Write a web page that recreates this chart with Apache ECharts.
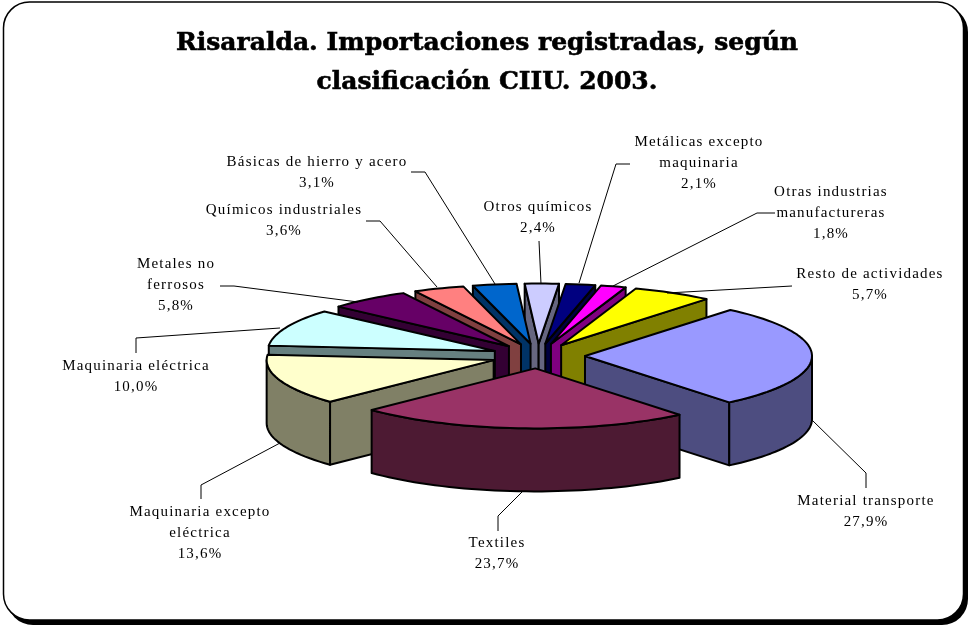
<!DOCTYPE html>
<html><head><meta charset="utf-8">
<style>html,body{margin:0;padding:0;background:#fff}#c{width:968px;height:625px}</style>
<script src="https://cdn.jsdelivr.net/npm/echarts@6/dist/echarts.min.js"></script>
</head><body><div id="c"></div>
<script>
const categories = ['Material transporte','Textiles','Maquinaria excepto\neléctrica','Maquinaria eléctrica','Metales no\nferrosos','Químicos industriales','Básicas de hierro y acero','Otros químicos','Metálicas excepto\nmaquinaria','Otras industrias\nmanufactureras','Resto de actividades'];
const values = [27.9,23.7,13.6,10.0,5.8,3.6,3.1,2.4,2.1,1.8,5.7];
const topColors = ['#9999FF','#993366','#FFFFCC','#CCFFFF','#660066','#FF8080','#0066CC','#CCCCFF','#000080','#FF00FF','#FFFF00'];
const sideColors = ['#4D4D80','#4D1A33','#808066','#668080','#330033','#804040','#003366','#666680','#000040','#800080','#808000'];
// label layout: text centre x, text top y
const labelAt = [[866,491],[497,533],[200,502],[136,356],[176,254],[284,200],[317,152],[538,197],[699,132],[831,182],[870,264]];
// leader line vertices (pixels)
const leaders = [
 [[866,488],[866,473],[812,420]],
 [[498,531],[498,516],[523,491]],
 [[201,499],[201,485],[280,443]],
 [[136,353],[136,338],[280,328]],
 [[220,286],[234,286],[358,302]],
 [[366,221],[380,221],[437,287]],
 [[411,172],[425,172],[495,284]],
 [[539,241],[541,284]],
 [[630,164],[616,164],[579,283]],
 [[775,213],[757,213],[613,286]],
 [[792,286],[667,293]]
];
const geo = {cx:538, cy:356, a:227, b:60, depth:63, explode:47, startDeg:-50.2};
const D = Math.PI/180;
const total = values.reduce((s,v)=>s+v,0);
const spans = [];
values.reduce((acc,v)=>{const e=acc+v/total*360;spans.push([acc,e]);return e;},geo.startDeg);
const pt = (o,deg,dy)=>[o[0]+geo.a*Math.cos(deg*D), o[1]+geo.b*Math.sin(deg*D)+(dy||0)];
function arc(o,s,e,dy){const n=Math.max(2,Math.ceil((e-s)/2));const r=[];for(let i=0;i<=n;i++)r.push(pt(o,s+(e-s)*i/n,dy));return r;}
const lineStyle={stroke:'#000',lineWidth:2,lineJoin:'round'};
function renderSlice(params,api){
  const i=params.dataIndex,[s,e]=spans[i],m=(s+e)/2;
  const o=[geo.cx+geo.explode*Math.cos(m*D), geo.cy+geo.explode*geo.b/geo.a*Math.sin(m*D)];
  const children=[];const z=Math.round(Math.sin(m*D)*1000)+2000;
  const poly=(pts,fill)=>children.push({type:'polygon',z2:z+children.length,shape:{points:pts},style:Object.assign({fill},lineStyle)});
  const face=(deg)=>{const r=pt(o,deg);poly([o,r,[r[0],r[1]+geo.depth],[o[0],o[1]+geo.depth]],sideColors[i]);};
  if(Math.cos(s*D)<0) face(s);
  if(Math.cos(e*D)>0) face(e);
  const ws=Math.max(s,0),we=Math.min(e,180);
  if(we>ws){poly(arc(o,ws,we,0).concat(arc(o,ws,we,geo.depth).reverse()),sideColors[i]);}
  poly([o].concat(arc(o,s,e,0)),topColors[i]);
  return {type:'group',children};
}
function renderLabel(params,api){
  const i=params.dataIndex,v=api.value(0);
  const txt=categories[i]+'\n'+v.toFixed(1).replace('.',',')+'%';
  return {type:'group',children:[
    {type:'polyline',shape:{points:leaders[i]},style:{stroke:'#000',lineWidth:1,fill:null}},
    {type:'text',x:labelAt[i][0],y:labelAt[i][1],style:{text:txt,align:'center',verticalAlign:'top',font:'15px "Liberation Serif"',lineHeight:21,fill:'#000'}}
  ]};
}
const chart=echarts.init(document.getElementById('c'),null,{renderer:'canvas',width:968,height:625});
// labels live on their own layer so the wide tracking of the original applies only to them
chart.getZr().painter.getLayer(1).ctx.letterSpacing='1.2px';
chart.setOption({
  animation:false,backgroundColor:'#fff',
  title:{text:'Risaralda. Importaciones registradas, según\nclasificación CIIU. 2003.',left:482,top:19,textAlign:'center',
    textStyle:{fontFamily:'DejaVu Serif',fontWeight:'bold',fontSize:25,lineHeight:39,color:'#000',textBorderColor:'#000',textBorderWidth:0.6}},
  graphic:[
    {type:'rect',z:-2,shape:{x:7,y:6,width:961,height:619,r:26},style:{fill:'#000'}},
    {type:'rect',z:-1,shape:{x:3.5,y:2,width:960,height:618,r:26},style:{fill:'#fff',stroke:'#000',lineWidth:1.5}}
  ],
  series:[
    {type:'custom',coordinateSystem:'none',data:values.map(v=>[v]),renderItem:renderSlice,silent:true,clip:false},
    {type:'custom',coordinateSystem:'none',zlevel:1,data:values.map(v=>[v]),renderItem:renderLabel,silent:true,clip:false}
  ]
});
</script></body></html>
